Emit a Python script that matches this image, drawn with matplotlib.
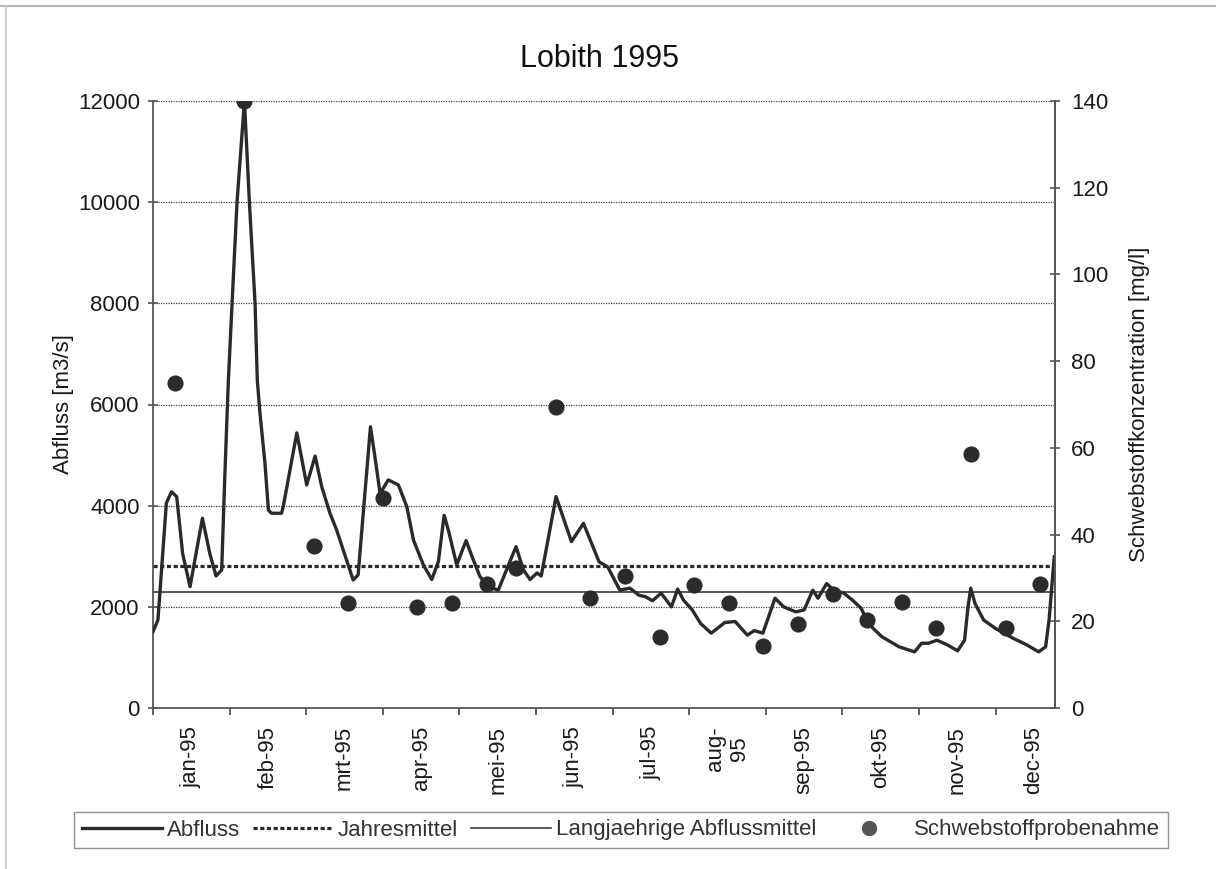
import matplotlib
matplotlib.use("Agg")
import matplotlib.pyplot as plt
from matplotlib.lines import Line2D

plt.rcParams['font.family'] = ['Liberation Sans', 'DejaVu Sans']

# ---------------- data ----------------
flow_day = [0, 2, 5.4, 7.5, 9.6, 12, 15, 20, 23, 25.5, 27.8, 29, 30, 30.5, 32, 34, 37, 39,
            41.3, 42.2, 43.3, 45.3, 46.7, 48, 52, 52.7, 58.2, 62.2, 65.6, 68.3, 71.6, 74.3,
            81, 83, 88, 89.7, 91.9, 95.2, 99.3, 102.7, 105.4, 109.4, 112.8, 115.5, 117.8,
            119.5, 122.9, 126.7, 129.6, 132.3, 135.6, 139.7, 146.9, 149.9, 152.6, 155.4,
            157.1, 163.1, 169.3, 174.2, 180.5, 184, 188.9, 193, 196.6, 199.3, 202.1, 205.6,
            209.8, 212.3, 214.7, 218.2, 221.6, 225.9, 229.3, 231.4, 235.6, 240.5, 243.3,
            246.8, 251.7, 255.2, 260.1, 263.5, 267, 269.1, 272.6, 275.4, 279.6, 283.1,
            286.6, 289.4, 294.9, 301.9, 308.2, 311, 313.8, 317.2, 321.4, 325.6, 328.4,
            329.8, 330.9, 332.6, 336.1, 341, 348, 353.5, 358.4, 361.2, 362.6, 364.7]
flow_val = [1510, 1740, 4050, 4275, 4175, 3050, 2400, 3750, 3050, 2610, 2730, 4500, 5830, 6480,
            8000, 10000, 12000, 10000, 8000, 6480, 5820, 4840, 3910, 3850, 3850, 3980, 5440,
            4410, 4980, 4370, 3850, 3520, 2530, 2630, 5560, 5000, 4240, 4510, 4410, 3980,
            3320, 2830, 2540, 2900, 3810, 3520, 2830, 3310, 2930, 2600, 2400, 2330, 3190,
            2730, 2540, 2670, 2610, 4180, 3290, 3650, 2890, 2790, 2330, 2370, 2230, 2200,
            2120, 2270, 2000, 2350, 2130, 1940, 1670, 1480, 1610, 1690, 1710, 1440, 1530,
            1480, 2170, 2000, 1900, 1940, 2330, 2170, 2460, 2330, 2270, 2130, 1970, 1670,
            1410, 1210, 1110, 1280, 1280, 1340, 1250, 1130, 1340, 2000, 2370, 2070, 1740,
            1570, 1380, 1250, 1110, 1210, 1740, 2990]

jahresmittel = 2810
langjaehrig = 2290

sample_day = [9, 37, 65, 79, 93, 107, 121, 135, 147, 163, 177, 191, 205, 219, 233, 247,
              261, 275, 289, 303, 317, 331, 345, 359]
sample_conc = [75, 140, 37.4, 24.3, 48.4, 23.4, 24.3, 28.5, 32.4, 69.5, 25.3, 30.4, 16.4,
               28.4, 24.3, 14.4, 19.4, 26.4, 20.4, 24.5, 18.4, 58.6, 18.4, 28.5]

month_ticks = [0, 31, 62, 93, 124, 155, 186, 217, 248, 279, 310, 341]
month_labels = ['jan-95', 'feb-95', 'mrt-95', 'apr-95', 'mei-95', 'jun-95', 'jul-95',
                'aug-\n95', 'sep-95', 'okt-95', 'nov-95', 'dec-95']

# ---------------- figure ----------------
W, H = 1216, 869
fig = plt.figure(figsize=(W / 100, H / 100), dpi=100)
L, R, B, T = 153, 1055, 708, 101
ax = fig.add_axes([L / W, 1 - B / H, (R - L) / W, (B - T) / H])

dark = '#2a2a2a'
spine_c = '#555555'
txt_c = '#1a1a1a'
fs = 16

# grid
for g in [2000, 4000, 6000, 8000, 10000, 12000]:
    ax.axhline(g, color='#444444', lw=0.9, ls=(0, (1, 1)), zorder=1)

ax.axhline(langjaehrig, color='#3a3a3a', lw=1.2, zorder=2)
ax.axhline(jahresmittel, color=dark, lw=2.3, ls=(0, (1.3, 0.8)), zorder=2)
ax.plot(flow_day, flow_val, color=dark, lw=2.4, zorder=3, solid_joinstyle='round')

ax.set_xlim(0, 365)
ax.set_ylim(0, 12000)
ax.set_yticks(range(0, 12001, 2000))
ax.set_xticks(month_ticks)
ax.set_xticklabels([])
ax.set_xticks([m + 15.5 for m in month_ticks], minor=True)
ax.set_xticklabels(month_labels, minor=True, rotation=90, fontsize=fs, color=txt_c,
                   va='top', ha='center')
ax.tick_params(axis='x', which='major', direction='out', length=5, width=1.3, color=spine_c)
ax.tick_params(axis='x', which='minor', length=0, pad=13)
ax.tick_params(axis='y', direction='inout', length=7, width=1.2, color=spine_c,
               labelsize=fs, labelcolor=txt_c, pad=6)

ax.spines['top'].set_visible(False)
for s in ['left', 'bottom', 'right']:
    ax.spines[s].set_color(spine_c)
    ax.spines[s].set_linewidth(1.3)

ax.set_ylabel('Abfluss [m3/s]', fontsize=fs, color=txt_c)
ax.yaxis.set_label_coords(-0.088, 0.5)

ax2 = ax.twinx()
ax2.set_ylim(0, 140)
ax2.set_yticks(range(0, 141, 20))
for s in ['top', 'left', 'bottom']:
    ax2.spines[s].set_visible(False)
ax2.spines['right'].set_color(spine_c)
ax2.spines['right'].set_linewidth(1.3)
ax2.tick_params(axis='y', direction='inout', length=7, width=1.2, color=spine_c,
                labelsize=fs, labelcolor=txt_c, pad=8)
ax2.scatter(sample_day, sample_conc, s=135, color='#2b2b2b', zorder=5, linewidths=0)
ax2.set_ylabel('Schwebstoffkonzentration [mg/l]', fontsize=fs, color=txt_c)
ax2.yaxis.set_label_coords(1.082, 0.5)

fig.text(600 / W, 1 - 67 / H, 'Lobith 1995', fontsize=22, ha='center', va='baseline',
         color='#111111')

handles = [
    Line2D([], [], color=dark, lw=2.4),
    Line2D([], [], color=dark, lw=2.3, ls=(0, (1.3, 0.8))),
    Line2D([], [], color='#3a3a3a', lw=1.2),
    Line2D([], [], color='#555555', marker='o', ls='none', markersize=10),
]
labels = ['Abfluss', 'Jahresmittel', 'Langjaehrige Abflussmittel', 'Schwebstoffprobenahme']
leg = fig.legend(handles, labels, loc='center', bbox_to_anchor=(621 / W, 1 - 830 / H),
                 ncol=4, fontsize=fs, frameon=True, fancybox=False, edgecolor='#777777',
                 handlelength=3.6, handletextpad=0.2, columnspacing=0.6, borderpad=0.35,
                 borderaxespad=0)
leg.get_frame().set_linewidth(1.0)
for t in leg.get_texts():
    t.set_color('#333333')

# scanned frame lines
fig.add_artist(Line2D([0, 1], [1 - 6 / H, 1 - 6 / H], transform=fig.transFigure,
                      color='#b5b5b5', lw=1.5))
fig.add_artist(Line2D([6 / W, 6 / W], [0, 1 - 6 / H], transform=fig.transFigure,
                      color='#c5c5c5', lw=1.2))

fig.savefig('out.png', dpi=100)
